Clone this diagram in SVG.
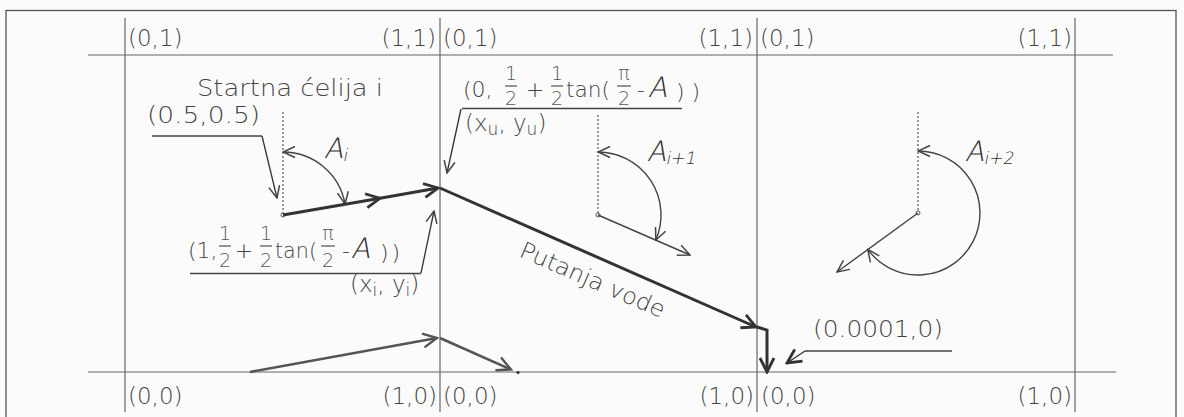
<svg xmlns="http://www.w3.org/2000/svg" width="1184" height="417" viewBox="0 0 1184 417">
<style>
  .bg{fill:#fbfbfb}
  .frame{fill:none;stroke:#555;stroke-width:1.3}
  .grid{stroke:#666;stroke-width:1.2;fill:none}
  .t{font-family:"DejaVu Sans","Liberation Sans",sans-serif;font-weight:200;fill:#444;font-size:23px}
  .e{font-family:"DejaVu Sans","Liberation Sans",sans-serif;font-weight:200;fill:#444;font-size:22px}
  .f{font-family:"DejaVu Sans","Liberation Sans",sans-serif;font-weight:200;fill:#555;font-size:19px;text-anchor:middle}
  .sa{font-family:"DejaVu Sans","Liberation Sans",sans-serif;font-weight:200;fill:#333;font-size:28px}
  .sub{font-size:17px;font-family:"DejaVu Sans","Liberation Sans",sans-serif;font-weight:200}
  .bar{stroke:#555;stroke-width:1.2}
  .dot{stroke:#555;stroke-width:1.2;stroke-dasharray:2 2;fill:none}
  .thin{stroke:#444;stroke-width:1.4;fill:none}
  .lead{stroke:#333;stroke-width:1.3;fill:none}
  .thick{stroke:#333;stroke-width:3;fill:none}
  .mid{stroke:#555;stroke-width:2.6;fill:none}
  .ul{stroke:#444;stroke-width:1.4}
</style>
<defs>
  <marker id="ah" viewBox="0 0 14 14" refX="13" refY="7" markerWidth="14" markerHeight="14" markerUnits="userSpaceOnUse" orient="auto-start-reverse">
    <path d="M1,1.5 L13,7 L1,12.5" fill="none" stroke="#444" stroke-width="1.5"/>
  </marker>
  <marker id="ahb" viewBox="0 0 18 18" refX="16" refY="9" markerWidth="18" markerHeight="18" markerUnits="userSpaceOnUse" orient="auto">
    <path d="M2,2 L16,9 L2,16" fill="none" stroke="#333" stroke-width="2.8"/>
  </marker>
  <marker id="ahg" viewBox="0 0 18 18" refX="16" refY="9" markerWidth="18" markerHeight="18" markerUnits="userSpaceOnUse" orient="auto">
    <path d="M2,2 L16,9 L2,16" fill="none" stroke="#555" stroke-width="2.4"/>
  </marker>
</defs>
<rect class="bg" x="0" y="0" width="1184" height="417"/>
<g id="frame">
  <rect class="frame" x="6" y="10.5" width="1170" height="420"/>
</g>
<g id="grid">
  <line class="grid" x1="88" y1="55" x2="1113" y2="55"/>
  <line class="grid" x1="88" y1="372" x2="1116" y2="372"/>
  <line class="grid" x1="125" y1="18" x2="125" y2="412"/>
  <line class="grid" x1="440" y1="18" x2="440" y2="412"/>
  <line class="grid" x1="757" y1="18" x2="757" y2="412"/>
  <line class="grid" x1="1075" y1="18" x2="1075" y2="412"/>
</g>
<g id="corner-labels">
  <text class="t" x="128" y="46">(0,1)</text>
  <text class="t" x="436" y="46" text-anchor="end">(1,1)</text>
  <text class="t" x="443" y="46">(0,1)</text>
  <text class="t" x="753" y="46" text-anchor="end">(1,1)</text>
  <text class="t" x="760" y="46">(0,1)</text>
  <text class="t" x="1072" y="46" text-anchor="end">(1,1)</text>
  <text class="t" x="128" y="404">(0,0)</text>
  <text class="t" x="437" y="404" text-anchor="end">(1,0)</text>
  <text class="t" x="443" y="404">(0,0)</text>
  <text class="t" x="754" y="404" text-anchor="end">(1,0)</text>
  <text class="t" x="761" y="404">(0,0)</text>
  <text class="t" x="1072" y="404" text-anchor="end">(1,0)</text>
</g>
<g id="cell-1">
  <text class="t" x="197" y="96" font-size="25" textLength="186" lengthAdjust="spacingAndGlyphs">Startna ćelija i</text>
  <text class="t" x="147" y="123" font-size="25" textLength="113" lengthAdjust="spacingAndGlyphs">(0.5,0.5)</text>
  <line class="dot" x1="283" y1="112" x2="283" y2="213"/>
  <circle cx="283" cy="215" r="2" fill="#fff" stroke="#555" stroke-width="1"/>
  <text class="sa" x="357.6" y="158" transform="skewX(-12)">A<tspan class="sub" dy="3">i</tspan></text>
  <g id="expr-1">
    <text class="e" x="188" y="258">(1,</text>
    <text class="f" x="225" y="240">1</text><line class="bar" x1="219" y1="246" x2="231" y2="246"/><text class="f" x="225" y="267">2</text>
    <text class="e" x="244" y="258" text-anchor="middle">+</text>
    <text class="f" x="266" y="240">1</text><line class="bar" x1="260" y1="246" x2="272" y2="246"/><text class="f" x="266" y="267">2</text>
    <text class="e" x="275" y="258" textLength="42" lengthAdjust="spacingAndGlyphs">tan(</text>
    <text class="f" x="328" y="240">π</text><line class="bar" x1="321" y1="246" x2="335" y2="246"/><text class="f" x="328" y="267">2</text>
    <text class="e" x="346" y="258" text-anchor="middle">-</text>
    <text class="sa" x="405.9" y="258" font-size="26" transform="skewX(-12)">A</text>
    <text class="e" x="380" y="260" font-size="26" letter-spacing="3">))</text>
  </g>
  <text class="t" x="350" y="292" font-size="21">(x<tspan class="sub" dy="4">i</tspan><tspan dy="-4">, y</tspan><tspan class="sub" dy="4">i</tspan><tspan dy="-4">)</tspan></text>
</g>
<g id="cell-2">
  <g id="expr-2">
    <text class="e" x="463" y="97">(0,</text>
    <text class="f" x="511" y="80">1</text><line class="bar" x1="505" y1="86" x2="517" y2="86"/><text class="f" x="511" y="105">2</text>
    <text class="e" x="535" y="97" text-anchor="middle">+</text>
    <text class="f" x="557" y="80">1</text><line class="bar" x1="551" y1="86" x2="563" y2="86"/><text class="f" x="557" y="105">2</text>
    <text class="e" x="566" y="97" textLength="44" lengthAdjust="spacingAndGlyphs">tan(</text>
    <text class="f" x="624" y="80">π</text><line class="bar" x1="617" y1="86" x2="631" y2="86"/><text class="f" x="624" y="105">2</text>
    <text class="e" x="641" y="97" text-anchor="middle">-</text>
    <text class="sa" x="668.6" y="97" font-size="26" transform="skewX(-12)">A</text>
    <text class="e" x="676" y="99" font-size="26" letter-spacing="7">))</text>
  </g>
  <text class="t" x="465" y="131" font-size="21">(x<tspan class="sub" dy="4">u</tspan><tspan dy="-4">, y</tspan><tspan class="sub" dy="4">u</tspan><tspan dy="-4">)</tspan></text>
  <line class="dot" x1="598" y1="115" x2="598" y2="213"/>
  <circle cx="598" cy="215" r="2" fill="#fff" stroke="#555" stroke-width="1"/>
  <text class="sa" x="681.2" y="161" transform="skewX(-12)">A<tspan class="sub" dy="3">i+1</tspan></text>
  <text class="t" x="518" y="256" font-size="23" fill="#555" textLength="156" lengthAdjust="spacingAndGlyphs" transform="rotate(23.5 518 256)">Putanja vode</text>
</g>
<g id="cell-3">
  <line class="dot" x1="918" y1="112" x2="918" y2="211"/>
  <circle cx="918" cy="213" r="2" fill="#fff" stroke="#555" stroke-width="1"/>
  <text class="sa" x="999.2" y="161" transform="skewX(-12)">A<tspan class="sub" dy="3">i+2</tspan></text>
  <text class="t" x="813" y="337" font-size="25" textLength="130" lengthAdjust="spacingAndGlyphs">(0.0001,0)</text>
</g>
<g id="connectors">
  <path class="thin" d="M283 152 A63 63 0 0 1 345 204" marker-start="url(#ah)" marker-end="url(#ah)"/>
  <path class="thin" d="M598 152 A63 63 0 0 1 655.8 240.1" marker-start="url(#ah)" marker-end="url(#ah)"/>
  <path class="thin" d="M918 151 A62 62 0 1 1 867.8 249.4" marker-start="url(#ah)" marker-end="url(#ah)"/>
  <line class="thin" x1="598" y1="215" x2="690" y2="255" marker-end="url(#ah)"/>
  <line class="thin" x1="918" y1="213" x2="837" y2="272" marker-end="url(#ah)"/>
  <line class="thick" x1="283" y1="215" x2="380" y2="198.3" marker-end="url(#ahb)"/>
  <line class="thick" x1="380" y1="198.3" x2="438" y2="188" marker-end="url(#ahb)"/>
  <line class="thick" x1="440" y1="188" x2="756" y2="327" marker-end="url(#ahb)"/>
  <polyline class="thick" points="757,327 767,330 767,372" marker-end="url(#ahb)"/>
  <line class="mid" x1="250" y1="372" x2="437" y2="338" marker-end="url(#ahg)"/>
  <line class="mid" x1="440" y1="338" x2="511" y2="369.5" marker-end="url(#ahg)"/>
  <circle cx="518" cy="372.5" r="1.6" fill="#333"/>
  <line class="ul" x1="152" y1="136" x2="262" y2="136"/>
  <line class="lead" x1="262" y1="136" x2="277" y2="198" marker-end="url(#ah)"/>
  <line class="ul" x1="462" y1="108.5" x2="682" y2="108.5"/>
  <line class="lead" x1="461" y1="109" x2="447" y2="173" marker-end="url(#ah)"/>
  <line class="ul" x1="190" y1="273.5" x2="421" y2="273.5"/>
  <line class="lead" x1="421" y1="273" x2="434" y2="211" marker-end="url(#ah)"/>
  <line class="ul" x1="805" y1="351" x2="952" y2="351"/>
  <line class="lead" x1="805" y1="351" x2="787" y2="363" marker-end="url(#ahb)" stroke-width="1.6"/>
</g>
</svg>
